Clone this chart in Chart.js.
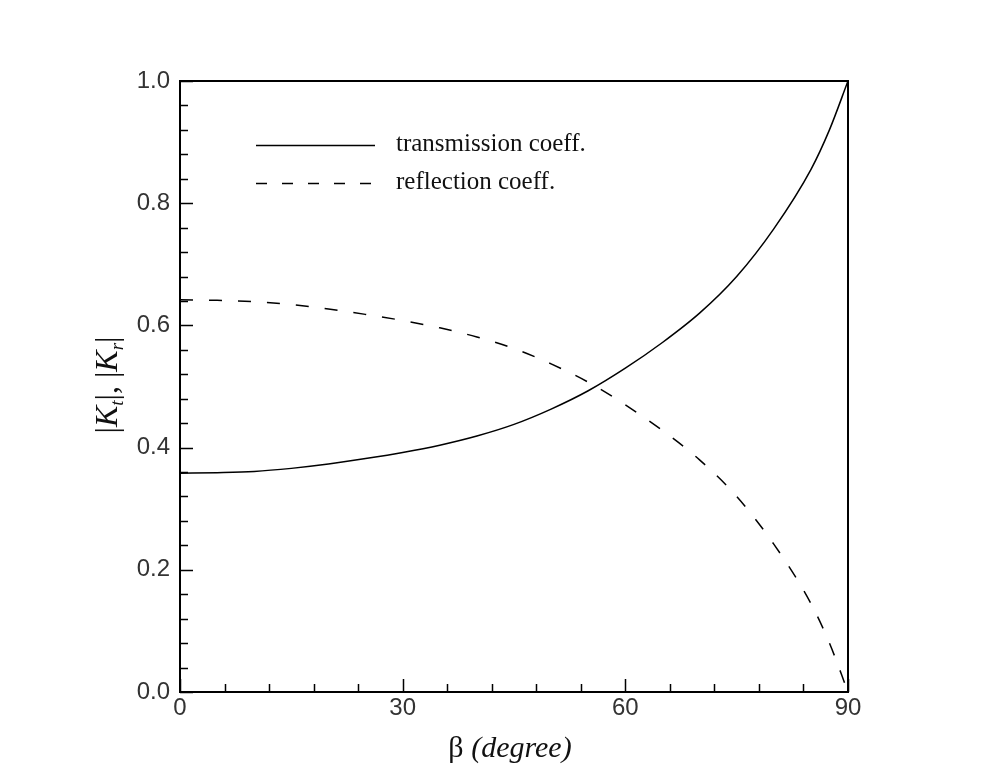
<!DOCTYPE html>
<html>
<head>
<meta charset="utf-8">
<script src="https://cdn.jsdelivr.net/npm/chart.js@4.4.1/dist/chart.umd.min.js"></script>
<style>
  html, body { margin: 0; padding: 0; background: #fff; }
  #wrap { width: 987px; height: 776px; position: relative; }
</style>
</head>
<body>
<div id="wrap"><canvas id="chart" width="987" height="776"></canvas></div>
<script>
// beta in degrees
const beta = [0, 5, 10, 15, 20, 25, 30, 35, 40, 45, 50, 55, 60, 65, 70, 75, 80, 85, 87.5, 90];
const transmission = [0.358, 0.359, 0.361, 0.366, 0.373, 0.382, 0.392, 0.404, 0.419, 0.438,
                      0.463, 0.493, 0.530, 0.572, 0.620, 0.680, 0.758, 0.855, 0.920, 1.000];
const reflection = [0.642, 0.641, 0.639, 0.634, 0.627, 0.618, 0.608, 0.596, 0.581, 0.562,
                    0.537, 0.507, 0.470, 0.428, 0.380, 0.320, 0.242, 0.145, 0.080, 0.000];
const xTicks = [0, 30, 60, 90];
const yTicks = [0, 0.2, 0.4, 0.6, 0.8, 1.0];

const toPoints = ys => beta.map((b, i) => ({ x: b, y: ys[i] }));

// box, inward ticks, axis titles and legend
const decor = {
    id: 'decor',
    afterDraw(chart) {
        const ctx = chart.ctx;
        const a = chart.chartArea;
        const xs = chart.scales.x, ys = chart.scales.y;
        ctx.save();
        ctx.strokeStyle = '#000';
        ctx.lineWidth = 2;
        ctx.strokeRect(a.left, a.top, a.right - a.left, a.bottom - a.top);

        ctx.lineWidth = 1.5;
        ctx.beginPath();
        for (let v = 0; v <= 90; v += 6) {
            const px = Math.round(xs.getPixelForValue(v)) + 0.5;
            const len = v % 30 === 0 ? 13 : 8;
            ctx.moveTo(px, a.bottom);
            ctx.lineTo(px, a.bottom - len);
        }
        for (let i = 0; i <= 25; i++) {
            const py = Math.round(ys.getPixelForValue(i * 0.04)) + 0.5;
            const len = i % 5 === 0 ? 13 : 8;
            ctx.moveTo(a.left, py);
            ctx.lineTo(a.left + len, py);
        }
        ctx.stroke();

        // x title
        ctx.fillStyle = '#111';
        ctx.textBaseline = 'alphabetic';
        ctx.textAlign = 'left';
        const cx = (a.left + a.right) / 2 - 4;
        ctx.font = '30px "Liberation Serif"';
        const wB = ctx.measureText('\u03b2 ').width;
        ctx.font = 'italic 30px "Liberation Serif"';
        const wD = ctx.measureText('(degree)').width;
        let x0 = cx - (wB + wD) / 2;
        ctx.font = '30px "Liberation Serif"';
        ctx.fillText('\u03b2 ', x0, 757);
        ctx.font = 'italic 30px "Liberation Serif"';
        ctx.fillText('(degree)', x0 + wB, 757);

        // y title, rotated
        ctx.save();
        ctx.translate(117, 385);
        ctx.rotate(-Math.PI / 2);
        const parts = [
            ['|', '32px "Liberation Serif"', 0],
            ['K', 'italic 32px "Liberation Serif"', 0],
            ['t', 'italic 19px "Liberation Serif"', 6],
            ['|, ', '32px "Liberation Serif"', 0],
            ['|', '32px "Liberation Serif"', 0],
            ['K', 'italic 32px "Liberation Serif"', 0],
            ['r', 'italic 19px "Liberation Serif"', 6],
            ['|', '32px "Liberation Serif"', 0]
        ];
        let tw = 0;
        parts.forEach(p => { ctx.font = p[1]; tw += ctx.measureText(p[0]).width; });
        let tx = -tw / 2;
        parts.forEach(p => {
            ctx.font = p[1];
            ctx.fillText(p[0], tx, p[2]);
            tx += ctx.measureText(p[0]).width;
        });
        ctx.restore();

        // legend
        ctx.lineWidth = 1.5;
        ctx.strokeStyle = '#000';
        ctx.beginPath();
        ctx.moveTo(256, 145.5);
        ctx.lineTo(375, 145.5);
        ctx.stroke();
        ctx.setLineDash([11, 15]);
        ctx.beginPath();
        ctx.moveTo(256, 183.5);
        ctx.lineTo(375, 183.5);
        ctx.stroke();
        ctx.setLineDash([]);
        ctx.font = '25px "Liberation Serif"';
        ctx.textBaseline = 'middle';
        ctx.fillText('transmission coeff.', 396, 144);
        ctx.fillText('reflection coeff.', 396, 182);
        ctx.restore();
    }
};

new Chart(document.getElementById('chart').getContext('2d'), {
    type: 'line',
    data: {
        datasets: [{
            label: 'transmission coeff.',
            data: toPoints(transmission),
            borderColor: '#000',
            borderWidth: 1.5,
            pointRadius: 0,
            cubicInterpolationMode: 'monotone',
            fill: false
        }, {
            label: 'reflection coeff.',
            data: toPoints(reflection),
            borderColor: '#000',
            borderWidth: 1.5,
            borderDash: [13, 16],
            pointRadius: 0,
            cubicInterpolationMode: 'monotone',
            fill: false
        }]
    },
    plugins: [decor],
    options: {
        responsive: false,
        animation: false,
        layout: { padding: { top: 81, right: 139, left: 0, bottom: 0 } },
        plugins: { legend: { display: false }, tooltip: { enabled: false } },
        scales: {
            x: {
                type: 'linear',
                min: 0, max: 90,
                afterFit: s => { s.height = 84; },
                afterBuildTicks: s => { s.ticks = xTicks.map(v => ({ value: v })); },
                grid: { display: false },
                border: { display: false },
                ticks: {
                    color: '#333',
                    font: { family: '"Liberation Sans"', size: 24 },
                    padding: -6,
                    maxRotation: 0
                }
            },
            y: {
                min: 0, max: 1,
                afterFit: s => { s.width = 180; },
                afterBuildTicks: s => { s.ticks = yTicks.map(v => ({ value: v })); },
                grid: { display: false },
                border: { display: false },
                ticks: {
                    color: '#333',
                    font: { family: '"Liberation Sans"', size: 24 },
                    padding: 2,
                    callback: v => v.toFixed(1)
                }
            }
        }
    }
});
</script>
</body>
</html>
